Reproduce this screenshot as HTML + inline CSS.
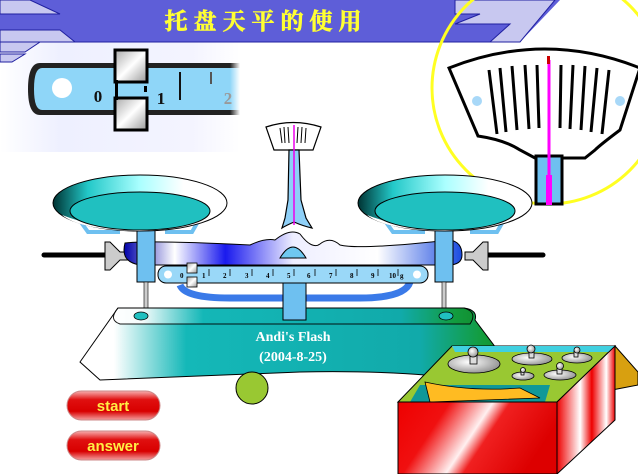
<!DOCTYPE html>
<html><head><meta charset="utf-8"><style>
html,body{margin:0;padding:0;background:#fff;width:638px;height:474px;overflow:hidden}
svg{display:block}
</style></head><body>
<svg width="638" height="474" viewBox="0 0 638 474" xmlns="http://www.w3.org/2000/svg" font-family="Liberation Serif, serif">
<defs>
<linearGradient id="fadeL" x1="0" x2="1"><stop offset="0" stop-color="#fff"/><stop offset="0.25" stop-color="#eef0ff"/><stop offset="0.8" stop-color="#f4f4ff"/><stop offset="1" stop-color="#fff"/></linearGradient>
<linearGradient id="rulerFade" x1="0" x2="1"><stop offset="0" stop-color="#fff" stop-opacity="0"/><stop offset="0.8" stop-color="#fff" stop-opacity="0"/><stop offset="1" stop-color="#fff" stop-opacity="1"/></linearGradient>
<linearGradient id="pan" x1="0" x2="1"><stop offset="0" stop-color="#003333"/><stop offset="0.2" stop-color="#22c8c8"/><stop offset="0.5" stop-color="#aaffff"/><stop offset="0.75" stop-color="#ffffff"/><stop offset="1" stop-color="#ffffff"/></linearGradient>
<linearGradient id="beam" x1="0" x2="1"><stop offset="0" stop-color="#0000aa"/><stop offset="0.15" stop-color="#ffffff"/><stop offset="0.3" stop-color="#1a1aee"/><stop offset="0.5" stop-color="#eeeeff"/><stop offset="0.75" stop-color="#ffffff"/><stop offset="1" stop-color="#1a4be0"/></linearGradient>
<linearGradient id="base" x1="0" x2="1"><stop offset="0.08" stop-color="#fff"/><stop offset="0.25" stop-color="#14b8b8"/><stop offset="0.8" stop-color="#11aaaa"/><stop offset="0.95" stop-color="#139c3a"/><stop offset="1" stop-color="#119030"/></linearGradient>
<linearGradient id="btn" x1="0" y1="0" x2="0" y2="1"><stop offset="0" stop-color="#f7b0b0"/><stop offset="0.3" stop-color="#e01010"/><stop offset="0.7" stop-color="#d80000"/><stop offset="1" stop-color="#f5a0a0"/></linearGradient>
<linearGradient id="red" x1="0" y1="0" x2="1" y2="0.3"><stop offset="0" stop-color="#ee0000"/><stop offset="0.3" stop-color="#f01010"/><stop offset="0.55" stop-color="#fff0f0"/><stop offset="0.65" stop-color="#f02020"/><stop offset="1" stop-color="#dd0000"/></linearGradient>
<linearGradient id="red2" x1="0" x2="1"><stop offset="0" stop-color="#ee0000"/><stop offset="0.4" stop-color="#ffffff"/><stop offset="0.6" stop-color="#ee0000"/><stop offset="0.85" stop-color="#fff"/><stop offset="1" stop-color="#e00"/></linearGradient>
<radialGradient id="wt" cx="0.4" cy="0.4" r="0.7"><stop offset="0" stop-color="#fff"/><stop offset="1" stop-color="#888"/></radialGradient>
<linearGradient id="silver" x1="0" x2="1" y1="0" y2="1"><stop offset="0" stop-color="#aaa"/><stop offset="0.5" stop-color="#fff"/><stop offset="1" stop-color="#999"/></linearGradient>
</defs>

<rect x="0" y="42" width="240" height="110" fill="url(#fadeL)"/>

<polygon points="0,0 560,0 520,42 0,42" fill="#5e5ed8"/>
<polygon points="0,0 30,0 60,14 0,14" fill="#c8c8f0" stroke="#2020a0" stroke-width="1"/>
<polygon points="0,30 60,30 75,42 0,42" fill="#c8c8f0" stroke="#2020a0" stroke-width="1"/>
<polygon points="0,42 40,42 25,52 0,52" fill="#c8c8f0" stroke="#2020a0" stroke-width="1"/>
<polygon points="0,54 25,54 12,62 0,62" fill="#c8c8f0" stroke="#2020a0" stroke-width="1"/>
<polygon points="455,0 555,0 520,42 490,42 510,24 455,24 480,14 455,14" fill="#c8c8f0" stroke="#2020a0" stroke-width="1"/>
<line x1="0" y1="42" x2="500" y2="42" stroke="#2020a0" stroke-width="1"/>
<text x="266" y="29" text-anchor="middle" font-family="Liberation Serif, 'Noto Serif CJK SC', serif" font-size="23" font-weight="bold" fill="#ffff33" stroke="#ffff33" stroke-width="0.6" letter-spacing="6">托盘天平的使用</text>

<path d="M40,63 H240 V115 H40 Q28,115 28,89 Q28,63 40,63 Z" fill="#222"/>
<path d="M42,68 H240 V110 H42 Q34,110 34,89 Q34,68 42,68 Z" fill="#8fd6f8"/>
<circle cx="62" cy="88" r="10" fill="#fff"/>
<text x="98" y="102" font-size="17" font-weight="bold" fill="#111" text-anchor="middle">0</text>
<text x="161" y="104" font-size="17" font-weight="bold" fill="#111" text-anchor="middle">1</text>
<text x="228" y="104" font-size="17" font-weight="bold" fill="#999" text-anchor="middle">2</text>
<line x1="180" y1="72" x2="180" y2="100" stroke="#111" stroke-width="2"/>
<line x1="211" y1="72" x2="211" y2="84" stroke="#555" stroke-width="2"/>
<rect x="115" y="50" width="32" height="32" fill="url(#silver)" stroke="#000" stroke-width="3"/>
<rect x="115" y="98" width="32" height="32" fill="url(#silver)" stroke="#000" stroke-width="3"/>
<rect x="115" y="80" width="3" height="20" fill="#000"/>
<rect x="144" y="86" width="3" height="6" fill="#000"/>
<rect x="190" y="60" width="50" height="60" fill="url(#rulerFade)"/>

<circle cx="548" cy="88" r="116" fill="none" stroke="#ffff22" stroke-width="3"/>
<path d="M449,68 Q545,30 640,68 L620,130 Q600,145 595,150 L585,158 H535 L520,150 Q505,140 478,136 Z" fill="#fff" stroke="#000" stroke-width="3"/>
<g stroke="#000" stroke-width="3">
<line x1="489" y1="70" x2="497" y2="134"/><line x1="500" y1="68" x2="506" y2="132"/><line x1="512" y1="66" x2="517" y2="130"/><line x1="525" y1="65" x2="529" y2="129"/><line x1="537" y1="65" x2="539" y2="128"/>
<line x1="561" y1="65" x2="560" y2="128"/><line x1="573" y1="65" x2="570" y2="129"/><line x1="585" y1="66" x2="581" y2="130"/><line x1="597" y1="68" x2="591" y2="132"/><line x1="609" y1="70" x2="602" y2="134"/>
</g>
<circle cx="477" cy="101" r="5" fill="#a8d8f8"/><circle cx="620" cy="101" r="5" fill="#a8d8f8"/>
<rect x="536" y="156" width="26" height="48" fill="#6ec0f0" stroke="#000" stroke-width="3"/>
<line x1="549" y1="60" x2="549" y2="204" stroke="#ff00ff" stroke-width="3"/>
<rect x="546" y="175" width="6" height="30" fill="#ff00ff"/>
<rect x="547" y="56" width="3" height="8" fill="#cc0000"/>

<path d="M266,127 Q293,118 321,127 L313,150 H274 Z" fill="#fff" stroke="#000" stroke-width="1.2"/>
<g stroke="#000" stroke-width="1"><line x1="280" y1="128" x2="282" y2="143"/><line x1="284" y1="127" x2="285" y2="143"/><line x1="288" y1="127" x2="289" y2="143"/><line x1="298" y1="127" x2="297" y2="143"/><line x1="302" y1="127" x2="301" y2="143"/><line x1="306" y1="128" x2="305" y2="143"/></g>
<path d="M289,150 H299 L301,200 L306,218 L312,228 Q303,226 294,222 Q285,226 282,228 L285,218 L288,200 Z" fill="#8fd0f8" stroke="#000" stroke-width="1.2"/>
<line x1="294" y1="125" x2="294" y2="225" stroke="#ee00ee" stroke-width="1.5"/>

<line x1="44" y1="255" x2="110" y2="255" stroke="#000" stroke-width="5" stroke-linecap="round"/>
<line x1="475" y1="255" x2="543" y2="255" stroke="#000" stroke-width="5" stroke-linecap="round"/>
<polygon points="105,242 110,242 120,252 128,252 128,260 120,260 110,270 105,270" fill="#ccc" stroke="#000" stroke-width="1"/>
<polygon points="488,242 483,242 473,252 465,252 465,260 473,260 483,270 488,270" fill="#ccc" stroke="#000" stroke-width="1"/>

<path d="M125,243 Q150,240 250,245 Q265,238 275,240 Q290,228 300,234 Q312,250 320,244 Q330,236 340,245 Q360,250 450,240 Q462,242 462,255 Q462,265 448,265 H140 Q120,262 125,243 Z" fill="url(#beam)" stroke="#000" stroke-width="1"/>
<path d="M280,258 Q293,236 306,258 Z" fill="#6fc8f0" stroke="#000" stroke-width="1"/>
<path d="M180,285 Q185,298 230,298 H360 Q405,298 410,282" fill="none" stroke="#3a7ae8" stroke-width="7"/>

<rect x="137" y="230" width="18" height="52" fill="#6ec0f0" stroke="#000" stroke-width="1"/>
<rect x="435" y="230" width="18" height="52" fill="#6ec0f0" stroke="#000" stroke-width="1"/>
<rect x="144" y="282" width="4" height="30" fill="#ccc" stroke="#000" stroke-width="0.6"/>
<rect x="442" y="282" width="4" height="30" fill="#ccc" stroke="#000" stroke-width="0.6"/>

<!-- pan brackets -->
<path d="M78,218 L88,232 H120 M200,218 L192,232 H165" fill="none" stroke="#6ec0f0" stroke-width="4"/>
<path d="M383,218 L393,232 H425 M505,218 L497,232 H470" fill="none" stroke="#6ec0f0" stroke-width="4"/>

<ellipse cx="140" cy="203" rx="87" ry="28" fill="url(#pan)" stroke="#000" stroke-width="1"/>
<path d="M62,215 Q140,245 220,212 Q200,228 140,231 Q80,230 62,215 Z" fill="#fff"/>
<ellipse cx="140" cy="211" rx="70" ry="19" fill="#20c0c0" stroke="#000" stroke-width="1"/>
<ellipse cx="445" cy="203" rx="87" ry="28" fill="url(#pan)" stroke="#000" stroke-width="1"/>
<path d="M367,215 Q445,245 525,212 Q505,228 445,231 Q385,230 367,215 Z" fill="#fff"/>
<ellipse cx="445" cy="211" rx="70" ry="19" fill="#20c0c0" stroke="#000" stroke-width="1"/>

<path d="M118,308 H464 Q478,310 475,320 L505,360 L470,380 Q400,370 300,372 L100,380 L80,362 Z" fill="url(#base)" stroke="#000" stroke-width="1"/>
<path d="M118,308 H464 Q478,312 470,324 H120 Q108,320 118,308 Z" fill="url(#base)" stroke="#000" stroke-width="1" opacity="0.9"/>
<ellipse cx="141" cy="316" rx="7" ry="4" fill="#20c0c0" stroke="#000" stroke-width="0.8"/>
<ellipse cx="446" cy="316" rx="7" ry="4" fill="#20c0c0" stroke="#000" stroke-width="0.8"/>
<rect x="283" y="282" width="23" height="38" fill="#6ec0f0" stroke="#000" stroke-width="1"/>
<text x="293" y="341" font-size="14" font-weight="bold" fill="#fff" text-anchor="middle">Andi's Flash</text>
<text x="293" y="361" font-size="14" font-weight="bold" fill="#fff" text-anchor="middle">(2004-8-25)</text>

<rect x="158" y="266" width="270" height="17" rx="8" fill="#9ad8f8" stroke="#000" stroke-width="1"/>
<circle cx="168" cy="274.5" r="4" fill="#fff"/><circle cx="417" cy="274.5" r="4" fill="#fff"/>
<g font-size="7" font-weight="bold" fill="#000">
<text x="180" y="278">0</text><text x="202" y="278">1</text><text x="223" y="278">2</text><text x="245" y="278">3</text><text x="266" y="278">4</text><text x="287" y="278">5</text><text x="307" y="278">6</text><text x="329" y="278">7</text><text x="350" y="278">8</text><text x="371" y="278">9</text><text x="389" y="278">10</text><text x="400" y="278">g</text>
</g>
<g stroke="#000" stroke-width="0.8">
<line x1="209" y1="269" x2="209" y2="276"/><line x1="230" y1="269" x2="230" y2="276"/><line x1="252" y1="269" x2="252" y2="276"/><line x1="273" y1="269" x2="273" y2="276"/><line x1="294" y1="269" x2="294" y2="276"/><line x1="315" y1="269" x2="315" y2="276"/><line x1="336" y1="269" x2="336" y2="276"/><line x1="357" y1="269" x2="357" y2="276"/><line x1="378" y1="269" x2="378" y2="276"/><line x1="398" y1="269" x2="398" y2="276"/>
</g>
<rect x="187" y="263" width="10" height="10" fill="url(#silver)" stroke="#000" stroke-width="0.8"/>
<rect x="187" y="277" width="10" height="10" fill="url(#silver)" stroke="#000" stroke-width="0.8"/>

<circle cx="252" cy="388" r="16" fill="#99c832" stroke="#000" stroke-width="1"/>

<rect x="67" y="391" width="93" height="29" rx="14.5" fill="url(#btn)" stroke="#c88" stroke-width="1"/>
<rect x="67" y="431" width="93" height="29" rx="14.5" fill="url(#btn)" stroke="#c88" stroke-width="1"/>
<g font-family="Liberation Sans, sans-serif" font-weight="bold" font-size="15" fill="#ffee44" text-anchor="middle">
<text x="113" y="411">start</text><text x="113" y="451">answer</text>
</g>

<polygon points="615,346 638,372 638,385 612,390" fill="#d8a010" stroke="#000" stroke-width="1"/>
<polygon points="452,346 615,346 557,402 398,402" fill="#99c832" stroke="#000" stroke-width="1"/>
<polygon points="452,346 615,346 610,352 455,352" fill="#40d0e0"/>
<polygon points="420,385 550,385 545,402 410,402" fill="#109898"/>
<path d="M425,382 Q470,392 520,388 L540,398 L430,402 Z" fill="#ffbb22" stroke="#000" stroke-width="0.8"/>
<rect x="398" y="402" width="159" height="72" fill="url(#red)" stroke="#000" stroke-width="1"/>
<polygon points="557,402 615,346 615,420 557,474" fill="url(#red2)" stroke="#000" stroke-width="1"/>
<g stroke="#000" stroke-width="0.8">
<ellipse cx="474" cy="364" rx="26" ry="9" fill="url(#wt)"/><rect x="470" y="354" width="7" height="10" fill="#ddd"/><circle cx="473" cy="352" r="5" fill="url(#wt)"/>
<ellipse cx="532" cy="359" rx="20" ry="6" fill="url(#wt)"/><rect x="529" y="350" width="5" height="8" fill="#ddd"/><circle cx="531" cy="349" r="4" fill="url(#wt)"/>
<ellipse cx="577" cy="358" rx="15" ry="5" fill="url(#wt)"/><rect x="574" y="351" width="4" height="6" fill="#ddd"/><circle cx="577" cy="350" r="3" fill="url(#wt)"/>
<ellipse cx="523" cy="376" rx="11" ry="4" fill="url(#wt)"/><rect x="521" y="370" width="3" height="5" fill="#ddd"/><circle cx="523" cy="370" r="2.5" fill="url(#wt)"/>
<ellipse cx="560" cy="375" rx="16" ry="5" fill="url(#wt)"/><rect x="557" y="367" width="5" height="7" fill="#ddd"/><circle cx="560" cy="366" r="3.5" fill="url(#wt)"/>
</g>
</svg>
</body></html>
